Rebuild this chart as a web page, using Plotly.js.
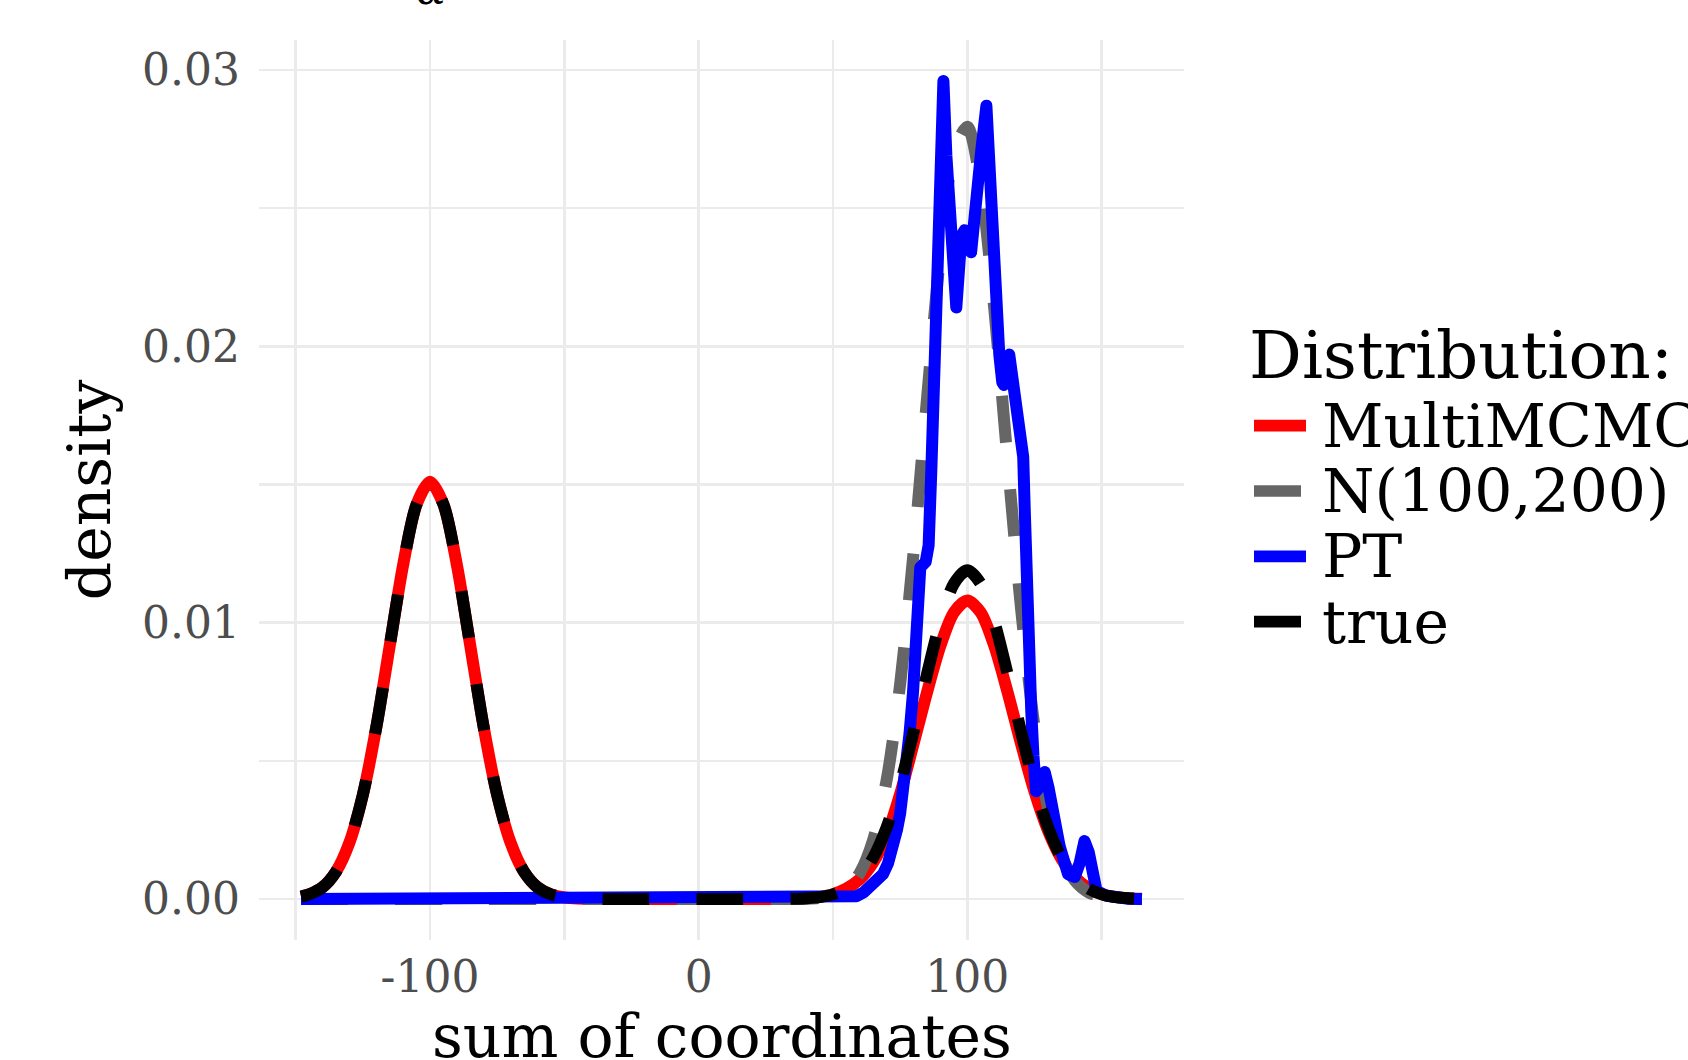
<!DOCTYPE html>
<html>
<head>
<meta charset="utf-8">
<script src="https://cdn.plot.ly/plotly-3.0.1.min.js"></script>
<style>
html,body{margin:0;padding:0;background:#fff;}
#chart{width:1688px;height:1060px;}
.js-line{stroke-linejoin:round;}
</style>
</head>
<body>
<div id="chart"></div>
<script>
// ---------- data ----------
const gridX = [-148,-145,-140,-135,-130,-125,-120,-115,-110,-105,-100,-95,-90,-85,-80,-75,-70,-65,-60,-55,-50,-45,-40,
  -35,-30,-25,-20,-15,-10,-5,0,5,10,15,20,25,30,
  35,40,45,50,55,60,65,70,75,80,85,90,95,100,105,110,115,120,125,130,135,140,145,150,155,160,165];

const multiMCMC = [0.00009,0.00017,0.00043,0.00099,0.00204,0.00377,0.00621,0.00916,0.01209,0.01428,0.01510,0.01428,0.01209,0.00916,0.00621,0.00377,0.00204,0.00099,0.00043,0.00017,0.00006,0.00002,0.00001,
  0,0,0,0,0,0,0,0,0,0,0,0,0,0,
  0.00001,0.00003,0.00008,0.00018,0.00038,0.00072,0.00133,0.00232,0.00380,0.00562,0.00748,0.00917,0.01037,0.01080,0.01037,0.00917,0.00748,0.00562,0.00389,0.00248,0.00146,0.00079,0.00040,0.00018,0.00008,0.00003,0.00001];

const normal100 = [0,0,0,0,0,0,0,0,0,0,0,0,0,0,0,0,0,0,0,0,0,0,0,
  0,0,0,0,0,0,0,0,0,0,0,0,0,0,
  0,0.00001,0.00004,0.00014,0.00038,0.00095,0.00215,0.00432,0.00778,0.01255,0.01811,0.02339,0.02702,0.02794,0.02585,0.02140,0.01585,0.01051,0.00623,0.00330,0.00157,0.00067,0.00025,0.00009,0.00003,0.00001,0];

const trueDens = [0.00009,0.00017,0.00043,0.00099,0.00204,0.00377,0.00621,0.00916,0.01209,0.01428,0.01510,0.01428,0.01209,0.00916,0.00621,0.00377,0.00204,0.00099,0.00043,0.00017,0.00006,0.00002,0.00001,
  0,0,0,0,0,0,0,0,0,0,0,0,0,0,
  0.00001,0.00003,0.00007,0.00017,0.00039,0.00080,0.00150,0.00260,0.00414,0.00605,0.00814,0.01005,0.01141,0.01190,0.01141,0.01005,0.00814,0.00605,0.00414,0.00260,0.00150,0.00080,0.00039,0.00017,0.00007,0.00003,0.00001];

const ptX = [-148,-100,-50,0,40,55,58.7,61.5,64,66.5,68.6,70.5,72.5,73.8,75,76.4,78.5,79.8,80.8,81.6,82.5,84.5,85.6,86.6,87.9,89.1,90.1,91.1,
  92.2,93.4,94.7,95.9,97.8,99.0,101.4,102.8,105.2,107.1,108.6,110.3,111.9,113.0,113.6,115.6,117.0,118.7,120.0,120.8,121.4,122.0,122.8,123.8,124.6,125.6,
  127.2,128.8,130.3,131.9,134.4,137.5,140.0,141.8,143.6,145.2,146.5,148.1,151.8,155,160,165];
const ptDens = [0,0,0,0,0,0.00001,0.0001,0.00025,0.00045,0.0006,0.0009,0.0013,0.0019,0.0025,0.0031,0.0040,0.0060,0.0075,0.0092,0.0115,0.0120,0.0122,0.0128,0.0155,0.0197,0.0245,0.0278,0.0296,
  0.0269,0.0247,0.0229,0.0214,0.0240,0.0242,0.0234,0.0253,0.0271,0.0287,0.0255,0.0225,0.0197,0.0187,0.0186,0.0197,0.0186,0.0175,0.0170,0.0160,0.0140,0.0112,0.0090,0.0068,0.0052,0.0039,
  0.0041,0.0046,0.0040,0.0031,0.0019,0.0009,0.0008,0.0013,0.0021,0.0017,0.0009,0.0003,0.00012,0.00004,0.00001,0];

const seriesNames = ['MultiMCMC','N(100,200)','PT','true'];
const seriesColors = ['#FF0000','#666666','#0000FF','#000000'];
const seriesDash = ['solid','47px,47px','solid','47px,47px'];

const xTickVals = [-100,0,100];
const xTickText = ['-100','0','100'];
const xMinorVals = [-150,-50,50,150];
const yTickVals = [0,0.01,0.02,0.03];
const yTickText = ['0.00','0.01','0.02','0.03'];
const yMinorVals = [0.005,0.015,0.025];

const legendTitle = 'Distribution:';
const xTitle = 'sum of coordinates';
const yTitle = 'density';
const topGlyph = 'α';

// ---------- layout geometry ----------
const W = 1688, H = 1060;
const L = 259, R = 1184, T = 40, B = 940;
const LW = 12;
const FONT = 'DejaVu Serif';
const px2x = p => (p - L) / (R - L);
const py2y = p => (B - p) / (B - T);

const xs = [gridX, gridX, ptX, gridX];
const ys = [multiMCMC, normal100, ptDens, trueDens];
const shapesKind = ['spline','spline','linear','spline'];

const traces = seriesNames.map((n, i) => ({
  type: 'scatter', mode: 'lines', name: n,
  x: xs[i], y: ys[i],
  line: {color: seriesColors[i], width: LW, dash: seriesDash[i], shape: shapesKind[i], smoothing: 0.8},
  showlegend: false, hoverinfo: 'skip'
}));

const shapes = [];
const annotations = [];
const keyY0 = 425.7, keyStep = 65.3;
seriesNames.forEach((n, i) => {
  const yy = keyY0 + i * keyStep;
  shapes.push({type: 'line', xref: 'paper', yref: 'paper',
    x0: px2x(1254), x1: px2x(1306), y0: py2y(yy), y1: py2y(yy),
    line: {color: seriesColors[i], width: 11.7, dash: seriesDash[i]}});
  annotations.push({xref: 'paper', yref: 'paper', x: px2x(1320), y: py2y(yy),
    xanchor: 'left', yanchor: 'middle', text: n, showarrow: false,
    font: {family: FONT, size: 60, color: '#000'}});
});
annotations.push({xref: 'paper', yref: 'paper', x: px2x(1247), y: py2y(355),
  xanchor: 'left', yanchor: 'middle', text: legendTitle, showarrow: false,
  font: {family: FONT, size: 66, color: '#000'}});
// x-axis title (placed as annotation: an axis title is clamped inside the bottom margin)
annotations.push({xref: 'paper', yref: 'paper', x: 0.5, y: py2y(1036),
  xanchor: 'center', yanchor: 'middle', text: xTitle, showarrow: false,
  font: {family: FONT, size: 60, color: '#000'}});
annotations.push({xref: 'paper', yref: 'paper', x: px2x(431), y: py2y(-12),
  xanchor: 'center', yanchor: 'middle', text: '<i>' + topGlyph + '</i>', showarrow: false,
  font: {family: FONT, size: 44, color: '#000'}});

const gridColor = '#EBEBEB';
const layout = {
  width: W, height: H,
  margin: {l: L, r: W - R, t: T, b: H - B, pad: 0},
  paper_bgcolor: '#fff', plot_bgcolor: '#fff',
  showlegend: false,
  xaxis: {
    range: [-163.65, 180.65], tickmode: 'array', tickvals: xTickVals, ticktext: xTickText,
    showgrid: true, gridcolor: gridColor, gridwidth: 2.6, zeroline: false, showline: false,
    ticks: '', ticklabelstandoff: 7,
    minor: {tickmode: 'array', tickvals: xMinorVals, showgrid: true, gridcolor: gridColor, gridwidth: 2.6, ticks: ''},
    tickfont: {family: FONT, size: 44, color: '#4D4D4D'},
    fixedrange: true, automargin: false
  },
  yaxis: {
    range: [-0.00148, 0.03108], tickmode: 'array', tickvals: yTickVals, ticktext: yTickText,
    showgrid: true, gridcolor: gridColor, gridwidth: 2.6, zeroline: false, showline: false,
    ticks: '', ticklabelstandoff: 18,
    minor: {tickmode: 'array', tickvals: yMinorVals, showgrid: true, gridcolor: gridColor, gridwidth: 2.6, ticks: ''},
    tickfont: {family: FONT, size: 44, color: '#4D4D4D'},
    title: {text: yTitle, font: {family: FONT, size: 60, color: '#000'}, standoff: 12},
    fixedrange: true, automargin: false
  },
  shapes: shapes,
  annotations: annotations
};

Plotly.newPlot('chart', traces, layout, {displayModeBar: false, staticPlot: true});
</script>
</body>
</html>
